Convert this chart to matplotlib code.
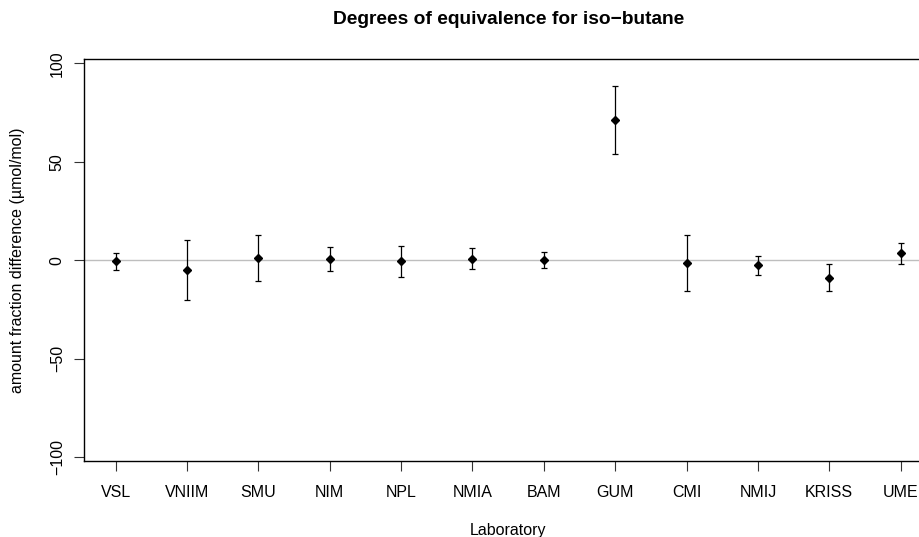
import matplotlib
matplotlib.use("Agg")
import matplotlib.pyplot as plt
import numpy as np

# values (umol/mol)
labs = ['VSL', 'VNIIM', 'SMU', 'NIM', 'NPL', 'NMIA', 'BAM', 'GUM', 'CMI', 'NMIJ', 'KRISS', 'UME']
doe = [-0.6, -5.0, 1.0, 0.7, -0.7, 0.7, 0.0, 71.3, -1.3, -2.7, -8.9, 3.4]
unc = [4.2, 15.3, 11.5, 6.2, 7.9, 5.3, 4.0, 17.3, 14.3, 5.0, 7.0, 5.4]
yticks = [-100, -50, 0, 50, 100]

plt.rcParams['font.family'] = ['Liberation Sans', 'DejaVu Sans']

W, H = 920, 537
fig = plt.figure(figsize=(W / 100, H / 100), dpi=100)
# plot region in pixels (right edge runs past the picture, as in the reference)
left, right, top, bottom = 84.3, 932.0, 59.3, 461.3
ax = fig.add_axes([left / W, 1 - bottom / H, (right - left) / W, (bottom - top) / H])

x = np.arange(1, len(labs) + 1)
ax.axhline(0, color='#bebebe', lw=1, zorder=1)
ax.errorbar(x, doe, yerr=unc, fmt='D', color='black', ms=4, elinewidth=0.9,
            capsize=2.2, capthick=0.9, zorder=3)

ax.set_xlim(0.56, 12.44)
ax.set_ylim(-102.2, 102.0)
ax.set_xticks(x)
ax.set_xticklabels(labs)
ax.set_yticks(yticks)
ax.set_yticklabels([str(v).replace('-', '\u2212') for v in yticks], rotation=90, va='center')

for s in ['top', 'bottom', 'left', 'right']:
    ax.spines[s].set_linewidth(1.0)
    ax.spines[s].set_color('black')
ax.tick_params(axis='both', which='major', direction='out', length=7, width=0.8,
               color='#333333', labelsize=11.5)
ax.tick_params(axis='x', pad=10)
ax.tick_params(axis='y', pad=7)

cx = (left + right) / 2
fig.text(cx / W, 1 - 20 / H, 'Degrees of equivalence for iso\u2212butane',
         ha='center', va='center', fontsize=13.8, fontweight='bold')
fig.text(cx / W, 1 - 530 / H, 'Laboratory', ha='center', va='center', fontsize=11.5)
fig.text(18 / W, 1 - 260 / H, 'amount fraction difference (\u00b5mol/mol)',
         ha='center', va='center', rotation=90, fontsize=11.5)

fig.savefig('out.png', dpi=100)
